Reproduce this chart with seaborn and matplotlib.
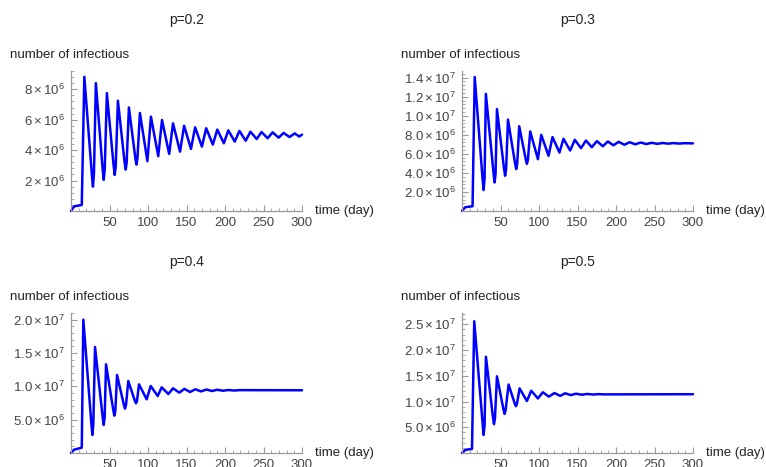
import numpy as np
import pandas as pd
import matplotlib
matplotlib.use("Agg")
import matplotlib.pyplot as plt
import seaborn as sns
from matplotlib.ticker import FixedLocator, MultipleLocator, FuncFormatter

# values (day, number of infectious)
days_p02 = [0, 4, 14, 17.3, 27.0, 28.5, 29.8, 32.3, 41.0, 42.5, 43.8, 46.6, 55.3, 56.8,
            58.1, 60.9, 69.5, 71.0, 72.3, 75.2, 83.5, 85.0, 86.3, 89.5,
            99.2, 103.8, 113.3, 118.2, 127.5, 132.5, 141.6, 146.9, 155.8, 161.2, 170.0,
            175.6, 184.2, 190.0, 198.5, 204.3, 212.7, 218.7, 226.9, 233.0, 241.2, 247.4,
            255.4, 261.8, 269.7, 276.1, 283.9, 290.5, 296.5, 300]
infectious_p02 = [0, 0.30e6, 0.40e6, 8.82e6, 2.45e6, 1.60e6, 2.45e6, 8.40e6, 2.8e6, 2.05e6,
                  2.75e6, 7.75e6, 3.0e6, 2.37e6, 2.95e6, 7.25e6, 3.25e6, 2.72e6, 3.2e6,
                  6.80e6, 3.5e6, 3.05e6, 3.45e6, 6.44e6, 3.27e6, 6.20e6, 3.60e6, 5.98e6,
                  3.75e6, 5.76e6, 3.90e6, 5.60e6, 4.08e6, 5.50e6, 4.23e6, 5.44e6, 4.36e6,
                  5.35e6, 4.45e6, 5.30e6, 4.56e6, 5.26e6, 4.62e6, 5.21e6, 4.73e6, 5.19e6,
                  4.78e6, 5.17e6, 4.82e6, 5.13e6, 4.86e6, 5.10e6, 4.89e6, 5.02e6]

days_p03 = [0, 4.3, 13.7, 16.5, 26.5, 28, 29.3, 31, 40.8, 42.3, 43.6, 45.4, 54.5, 56,
            57.3, 59.7, 68.9, 70.4, 71.7, 74.3, 82.8, 84.3, 85.6, 88.6,
            98.6, 102.9, 112.4, 117.5, 126.6, 131.8, 140.5, 146.5, 154.6, 161.0, 168.6,
            175.2, 182.9, 189.4, 196.6, 203.5, 210.8, 217.8, 225, 232, 239.3, 246.3,
            253.5, 260.5, 267.8, 274.8, 282, 289, 300]
infectious_p03 = [0, 0.40e6, 0.50e6, 14.07e6, 3.6e6, 2.2e6, 3.4e6, 12.3e6, 4.1e6, 3.0e6,
                  3.9e6, 10.7e6, 4.5e6, 3.7e6, 4.4e6, 9.6e6, 5.0e6, 4.4e6, 4.95e6, 8.9e6,
                  5.42e6, 4.95e6, 5.38e6, 8.35e6, 5.44e6, 8.0e6, 5.8e6, 7.76e6, 6.14e6,
                  7.58e6, 6.35e6, 7.47e6, 6.6e6, 7.4e6, 6.7e6, 7.34e6, 6.8e6, 7.3e6, 6.9e6,
                  7.26e6, 6.96e6, 7.22e6, 7.0e6, 7.19e6, 7.03e6, 7.16e6, 7.05e6, 7.14e6,
                  7.07e6, 7.13e6, 7.08e6, 7.12e6, 7.10e6]

days_p04 = [0, 4, 14, 16, 26.2, 27.7, 29.0, 31.2, 40.9, 42.4, 43.7, 45.5, 54.8, 56.3,
            57.6, 59.8, 68.6, 70.1, 71.4, 74.4, 82.9, 84.4, 85.7, 88.3,
            98.3, 103.5, 112.6, 117.8, 126.4, 132.5, 140.7, 147.2, 154.5, 161.5, 168.8,
            176, 183, 190, 197.5, 204.5, 212, 219, 300]
infectious_p04 = [0, 0.5e6, 0.8e6, 20.0e6, 4.8e6, 2.7e6, 4.3e6, 15.9e6, 5.6e6, 4.2e6,
                  5.3e6, 13.3e6, 6.5e6, 5.6e6, 6.35e6, 11.7e6, 7.25e6, 6.65e6, 7.15e6,
                  10.8e6, 7.85e6, 7.45e6, 7.8e6, 10.3e6, 8.05e6, 10.05e6, 8.55e6, 9.85e6,
                  8.85e6, 9.7e6, 9.05e6, 9.62e6, 9.15e6, 9.56e6, 9.24e6, 9.52e6, 9.3e6,
                  9.48e6, 9.34e6, 9.45e6, 9.37e6, 9.43e6, 9.41e6]

days_p05 = [0, 4.3, 13, 15.9, 26.5, 28, 29.3, 31.1, 40.0, 41.5, 42.8, 45.4, 53.8, 55.3,
            56.6, 60.5, 68.5, 70, 71.3, 74.8, 84.3, 89.9,
            98.6, 105, 112.8, 120.1, 127.5, 134, 141.3, 148, 155.5, 162.5, 170, 177,
            184, 300]
infectious_p05 = [0, 0.6e6, 0.8e6, 25.6e6, 6.2e6, 3.5e6, 5.3e6, 18.7e6, 7.2e6, 5.6e6,
                  6.7e6, 14.9e6, 8.5e6, 7.6e6, 8.3e6, 13.3e6, 9.6e6, 9.1e6, 9.5e6,
                  12.55e6, 10.1e6, 12.1e6, 10.6e6, 11.8e6, 10.95e6, 11.65e6,
                  11.1e6, 11.6e6, 11.25e6, 11.52e6, 11.32e6, 11.47e6, 11.36e6, 11.44e6,
                  11.39e6, 11.42e6]

titles = ["p=0.2", "p=0.3", "p=0.4", "p=0.5"]
x_ticks = [50, 100, 150, 200, 250, 300]
y_ticks_p02 = [2e6, 4e6, 6e6, 8e6]
y_ticks_p03 = [2e6, 4e6, 6e6, 8e6, 10e6, 12e6, 14e6]
y_ticks_p04 = [5e6, 10e6, 15e6, 20e6]
y_ticks_p05 = [5e6, 10e6, 15e6, 20e6, 25e6]

sns.set_theme(style="white")
plt.rcParams["font.family"] = ["Liberation Sans", "DejaVu Sans"]
plt.rcParams["mathtext.fontset"] = "custom"
plt.rcParams["mathtext.rm"] = "Liberation Sans"
plt.rcParams["mathtext.it"] = "Liberation Sans:italic"
plt.rcParams["mathtext.bf"] = "Liberation Sans:bold"

W, H = 766, 467
fig = plt.figure(figsize=(W / 100, H / 100), dpi=100)
fig.patch.set_facecolor("white")


def sci_label(decimals):
    def fmt(v, pos):
        exp = int(np.floor(np.log10(v)))
        mant = v / 10 ** exp
        return rf"${mant:.{decimals}f}\times10^{{{exp}}}$"
    return fmt


panels = [
    # data, pixel box (left, top, right, bottom), y top, y ticks, decimals, y minor step
    (days_p02, infectious_p02, (71, 71, 302, 211), 9.2e6, y_ticks_p02, 0, 0.4e6),
    (days_p03, infectious_p03, (462, 71, 693, 211), 14.7e6, y_ticks_p03, 1, 0.4e6),
    (days_p04, infectious_p04, (71, 313, 302, 453), 21.0e6, y_ticks_p04, 1, 1e6),
    (days_p05, infectious_p05, (462, 313, 693, 453), 27.2e6, y_ticks_p05, 1, 1e6),
]

axis_grey = "#9a9a9a"
text_grey = "#444444"

for title, (days, vals, box, ytop, yticks, dec, ystep) in zip(titles, panels):
    left, top, right, bottom = box
    ax = fig.add_axes([left / W, 1 - bottom / H, (right - left) / W, (bottom - top) / H])
    df = pd.DataFrame({"day": days, "infectious": vals})
    sns.lineplot(data=df, x="day", y="infectious", ax=ax, color="#0000ff",
                 linewidth=1.8, estimator=None)
    for line in ax.lines:
        line.set_clip_on(False)
        line.set_solid_joinstyle("round")

    ax.set_xlim(0, 300)
    ax.set_ylim(0, ytop)
    ax.set_facecolor("white")
    for side in ["top", "right"]:
        ax.spines[side].set_visible(False)
    for side in ["left", "bottom"]:
        ax.spines[side].set_color(axis_grey)
        ax.spines[side].set_linewidth(0.9)

    ax.xaxis.set_major_locator(FixedLocator(x_ticks))
    ax.xaxis.set_minor_locator(MultipleLocator(10))
    ax.yaxis.set_major_locator(FixedLocator(yticks))
    ax.yaxis.set_minor_locator(MultipleLocator(ystep))
    ax.yaxis.set_major_formatter(FuncFormatter(sci_label(dec)))
    ax.tick_params(axis="both", which="major", direction="in", length=4, width=0.8,
                   color=axis_grey, labelcolor=text_grey, labelsize=9.5, pad=4.5)
    ax.tick_params(axis="both", which="minor", direction="in", length=2, width=0.6,
                   color=axis_grey)
    ax.tick_params(axis="x", bottom=True, which="both")
    ax.tick_params(axis="y", left=True, which="both")
    ax.set_xlabel("")
    ax.set_ylabel("")

    # panel title, axis labels placed like the reference
    cx = (left + right) / 2
    fig.text(cx / W, 1 - (top - 51) / H, title, ha="center", va="center",
             fontsize=10, color="#222222")
    fig.text((left - 61) / W, 1 - (top - 16) / H, "number of infectious",
             ha="left", va="center", fontsize=9.5, color="#222222")
    fig.text((right + 13) / W, 1 - bottom / H, "time (day)",
             ha="left", va="center", fontsize=9.5, color="#222222")

fig.savefig("out.png", dpi=100, facecolor="white")
